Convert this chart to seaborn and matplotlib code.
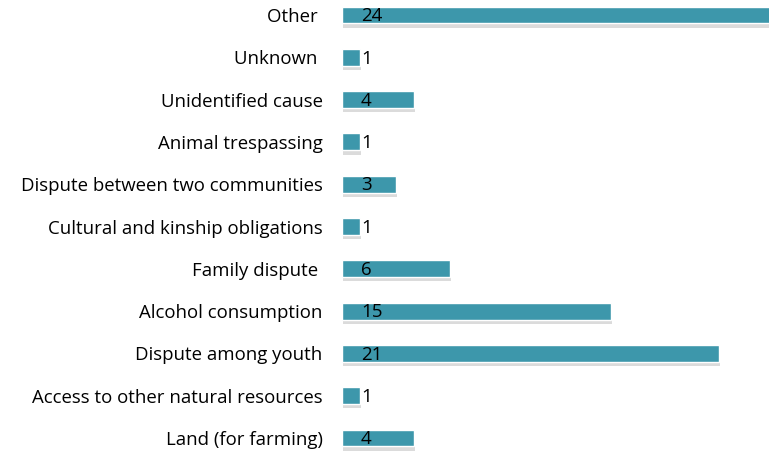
import matplotlib
matplotlib.use("Agg")
import matplotlib.pyplot as plt
import matplotlib.patheffects as pe
import seaborn as sns
import pandas as pd

# categories top to bottom, with counts
causes = ["Other ", "Unknown ", "Unidentified cause", "Animal trespassing",
          "Dispute between two communities", "Cultural and kinship obligations",
          "Family dispute ", "Alcohol consumption", "Dispute among youth",
          "Access to other natural resources", "Land (for farming)"]
counts = [24, 1, 4, 1, 3, 1, 6, 15, 21, 1, 4]

df = pd.DataFrame({"cause": causes, "count": counts})

sns.set_theme(style="white")
plt.rcParams["font.family"] = ["Open Sans", "DejaVu Sans"]

fig = plt.figure(figsize=(7.69, 4.53), dpi=100)
ax = fig.add_axes([342 / 769, 0, 1 - 342 / 769, 1])

sns.barplot(data=df, x="count", y="cause", orient="h", color="#3d97ab",
            saturation=1, width=0.4, ax=ax)

for bar in ax.patches:
    bar.set_path_effects([pe.SimplePatchShadow(offset=(0.8, -3), shadow_rgbFace="#999999", alpha=0.35),
                          pe.Normal()])

for i, v in enumerate(counts):
    ax.text(1.05, i + 0.03, str(v), va="center", ha="left", fontsize=13.5, color="black")

ax.set_xlim(0, 23.8)
ax.set_ylim(10 + 15 / 42.3, -15 / 42.3)
ax.set_xlabel("")
ax.set_ylabel("")
ax.set_xticks([])
ax.tick_params(axis="y", length=0, pad=14, labelsize=13.4, labelcolor="black")
for s in ax.spines.values():
    s.set_visible(False)

fig.savefig("out.png", dpi=100)
